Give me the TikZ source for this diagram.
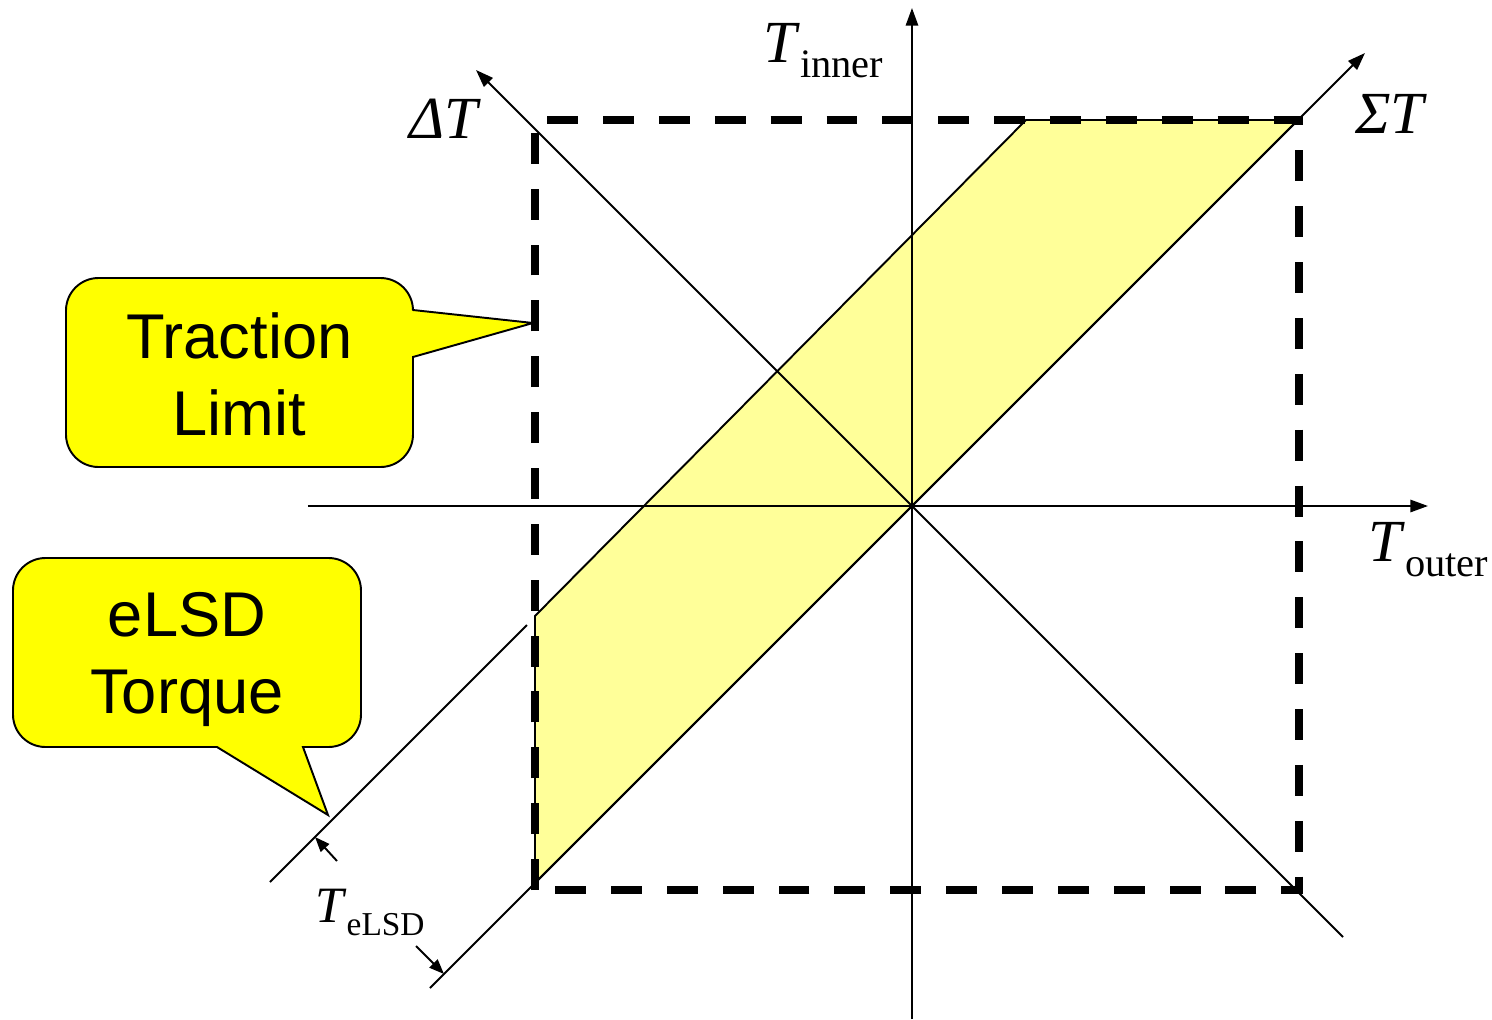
\documentclass[tikz,border=0pt]{standalone}
\usepackage{fontspec}
\setmainfont{Liberation Serif}
\setsansfont{Liberation Sans}
\usetikzlibrary{arrows.meta}
\definecolor{bandyellow}{HTML}{FFFF99}
\definecolor{calloutyellow}{HTML}{FFFF00}
\begin{document}
\begin{tikzpicture}[x=0.02cm,y=0.02cm,
  thinline/.style={line width=1.1pt},
  axisarrow/.style={thinline,-{Triangle[length=10pt,width=7pt]}},
  dimarrow/.style={thinline,-{Triangle[length=8.5pt,width=6.5pt]}},
  limitline/.style={line width=4pt,dash pattern=on 17.6pt off 14.2pt},
  callout/.style={draw=black,line width=1.1pt,fill=calloutyellow},
  callouttext/.style={font=\sffamily\fontsize{36}{44}\selectfont,align=center,inner sep=0pt},
  axislabel/.style={anchor=base west,inner sep=0pt,font=\fontsize{34}{34}\selectfont}]
\useasboundingbox (-912,-513) rectangle (580,506);

% torque plane
\coordinate (xl) at (-604,0);
\coordinate (xr) at (516,0);
\coordinate (yb) at (0,-513);
\coordinate (yt) at (0,498);
\coordinate (dr) at (431,-431);
\coordinate (dl) at (-436,436);
\coordinate (sl) at (-482,-482);
\coordinate (sr) at (453,453);
\coordinate (lim1) at (-377,-384);
\coordinate (lim2) at (387,386);
\coordinate (b1) at (-377,-110);
\coordinate (b2) at (114,386);
\coordinate (b3) at (386,386);
\coordinate (b4) at (-377,-377);
\coordinate (e1) at (-642,-376);
\coordinate (e2) at (-385,-119);

\draw[thinline,fill=bandyellow] (b1) -- (b2) -- (b3) -- (b4) -- cycle;

\draw[axisarrow] (xl) -- (xr);
\draw[axisarrow] (yb) -- (yt);
\draw[axisarrow] (dr) -- (dl);
\draw[axisarrow] (sl) -- (sr);
\draw[thinline] (e1) -- (e2);
\draw[limitline] (lim1) rectangle (lim2);

% eLSD offset
\coordinate (d1) at (-575,-355);
\coordinate (d1t) at (-597,-331);
\coordinate (d2) at (-496,-440);
\coordinate (d2t) at (-468,-468);
\draw[dimarrow] (d1) -- (d1t);
\draw[dimarrow] (d2) -- (d2t);

% callouts
\coordinate (tltip) at (-379,183);
\draw[callout] (-499,149) [rounded corners=0.65cm] -- (-499,39) -- (-846,39) -- (-846,228) -- (-499,228) [sharp corners] -- (-499,196) -- (tltip) -- cycle;
\node[callouttext,anchor=north] (tlim) at (-672.5,194) {Traction\\Limit};

\coordinate (ettip) at (-584,-309);
\draw[callout] (-695,-241) [rounded corners=0.65cm] -- (-899,-241) -- (-899,-52) -- (-551,-52) -- (-551,-241) [sharp corners] -- (-609,-241) -- (ettip) -- cycle;
\node[callouttext,anchor=north] (etq) at (-725,-86) {eLSD\\Torque};

% labels
\node[axislabel] (tin) at (-149,444) {\textit{T}\raisebox{-9pt}{\fontsize{23}{23}\selectfont inner}};
\node[axislabel] (tout) at (456,-55) {\textit{T}\raisebox{-9pt}{\fontsize{23}{23}\selectfont outer}};
\node[axislabel] (dt) at (-503,368) {\textit{ΔT}};
\node[axislabel] (st) at (443,373) {\textit{ΣT}};
\node[axislabel,font=\fontsize{29}{29}\selectfont] (tel) at (-597,-416) {\textit{T}\raisebox{-7.4pt}{\fontsize{19}{19}\selectfont eLSD}};
\end{tikzpicture}
\end{document}
